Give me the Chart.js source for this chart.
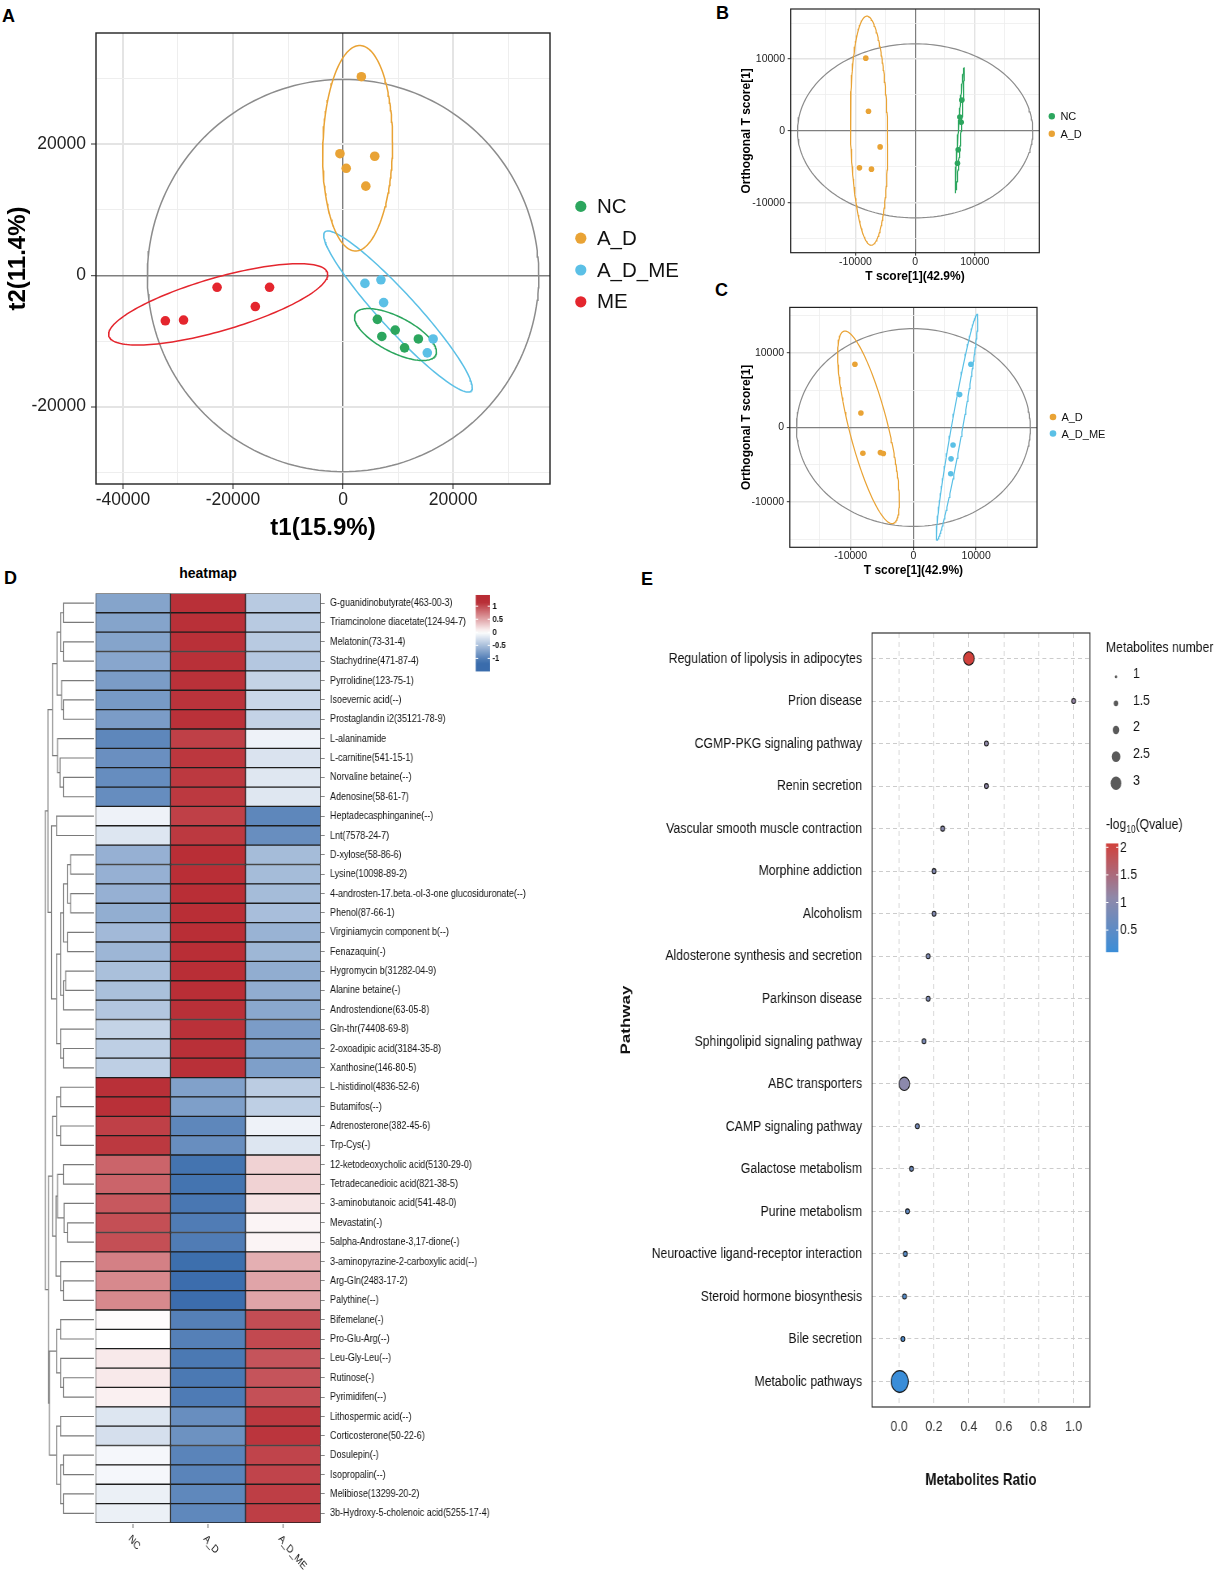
<!DOCTYPE html>
<html>
<head>
<meta charset="utf-8">
<script src="https://cdn.jsdelivr.net/npm/chart.js@4.4.1/dist/chart.umd.min.js"></script>
<style>
  body { margin: 0; background: #fff; width: 1214px; height: 1572px; position: relative; overflow: hidden; }
  .pane { position: absolute; }
  .squeeze { transform-origin: 0 0; }
  .tag { position: absolute; font: bold 18px 'Liberation Sans', Arial, sans-serif; line-height: 18px; color: #000; }
  .htitle { position: absolute; font: bold 14px 'Liberation Sans', Arial, sans-serif; line-height: 14px; width: 100px; text-align: center; }
</style>
</head>
<body>
<div class="tag" style="left:2px;top:7px">A</div>
<div class="tag" style="left:716px;top:4px">B</div>
<div class="tag" style="left:715px;top:281px">C</div>
<div class="tag" style="left:4px;top:569px">D</div>
<div class="tag" style="left:641px;top:570px">E</div>
<div class="htitle" style="left:158px;top:566px">heatmap</div>

<canvas class="pane" id="pcaChart" width="700" height="560" style="left:0;top:0"></canvas>
<canvas class="pane" id="oplsB" width="514" height="290" style="left:700px;top:0"></canvas>
<canvas class="pane" id="oplsC" width="514" height="300" style="left:700px;top:280px"></canvas>
<canvas class="pane squeeze" id="heatChart" style="left:0;top:580px"></canvas>
<canvas class="pane squeeze" id="pathChart" style="left:600px;top:590px"></canvas>

<script>
const SANS = "'Liberation Sans', Arial, sans-serif";

// ---- A: PCA scores ----
const pcaT1NC = [6230, 9470, 7040, 13680, 11170];
const pcaT2NC = [-6680, -8320, -9290, -9670, -11030];
const pcaT1AD = [3320, -570, 5750, 570, 4130];
const pcaT2AD = [30330, 18590, 18200, 16360, 13640];
const pcaT1ADME = [3970, 6880, 7370, 16360, 15300];
const pcaT2ADME = [-1200, -650, -4130, -9670, -11790];
const pcaT1ME = [-32300, -28990, -22900, -15950, -13360];
const pcaT2ME = [-6900, -6790, -1790, -4730, -1790];

// ---- B: OPLS-DA NC vs A_D ----
const bTNC = [7820, 7490, 7710, 7210, 7090];
const bONC = [4280, 1910, 1180, -2640, -4510];
const bTAD = [-8270, -7820, -5870, -9330, -7320];
const bOAD = [10110, 2730, -2230, -5150, -5330];

// ---- C: OPLS-DA A_D vs A_D_ME ----
const cTAD = [-9320, -8370, -8050, -5260, -4790];
const cOAD = [8510, 1950, -3460, -3370, -3500];
const cTADME = [9160, 7370, 6320, 6000, 5950];
const cOADME = [8510, 4430, -2350, -4210, -6210];

// ---- D: heatmap (row z-scores) ----
const heatColumns = ['NC', 'A_D', 'A_D_ME'];
const heatRows = [
  'G-guanidinobutyrate(463-00-3)', 'Triamcinolone diacetate(124-94-7)', 'Melatonin(73-31-4)',
  'Stachydrine(471-87-4)', 'Pyrrolidine(123-75-1)', 'Isoevernic acid(--)', 'Prostaglandin i2(35121-78-9)',
  'L-alaninamide', 'L-carnitine(541-15-1)', 'Norvaline betaine(--)', 'Adenosine(58-61-7)',
  'Heptadecasphinganine(--)', 'Lnt(7578-24-7)', 'D-xylose(58-86-6)', 'Lysine(10098-89-2)',
  '4-androsten-17.beta.-ol-3-one glucosiduronate(--)', 'Phenol(87-66-1)', 'Virginiamycin component b(--)',
  'Fenazaquin(-)', 'Hygromycin b(31282-04-9)', 'Alanine betaine(-)', 'Androstendione(63-05-8)',
  'Gln-thr(74408-69-8)', '2-oxoadipic acid(3184-35-8)', 'Xanthosine(146-80-5)', 'L-histidinol(4836-52-6)',
  'Butamifos(--)', 'Adrenosterone(382-45-6)', 'Trp-Cys(-)', '12-ketodeoxycholic acid(5130-29-0)',
  'Tetradecanedioic acid(821-38-5)', '3-aminobutanoic acid(541-48-0)', 'Mevastatin(-)',
  '5alpha-Androstane-3,17-dione(-)', '3-aminopyrazine-2-carboxylic acid(--)', 'Arg-Gln(2483-17-2)',
  'Palythine(--)', 'Bifemelane(-)', 'Pro-Glu-Arg(--)', 'Leu-Gly-Leu(--)', 'Rutinose(-)', 'Pyrimidifen(--)',
  'Lithospermic acid(--)', 'Corticosterone(50-22-6)', 'Dosulepin(-)', 'Isopropalin(--)',
  'Melibiose(13299-20-2)', '3b-Hydroxy-5-cholenoic acid(5255-17-4)'
];
const zNC = [-0.72, -0.72, -0.72, -0.70, -0.78, -0.80, -0.78, -0.95, -0.88, -0.90, -0.90, -0.10, -0.20,
  -0.62, -0.62, -0.62, -0.64, -0.55, -0.58, -0.50, -0.50, -0.45, -0.35, -0.38, -0.38,
  1.14, 1.14, 1.05, 1.09, 0.85, 0.85, 0.92, 0.97, 0.97, 0.70, 0.65, 0.65,
  0.02, 0.00, 0.12, 0.12, 0.08, -0.20, -0.25, -0.06, -0.06, -0.12, -0.12];
const zAD = [1.14, 1.14, 1.14, 1.14, 1.13, 1.12, 1.13, 1.05, 1.10, 1.09, 1.09, 1.05, 1.09,
  1.15, 1.15, 1.15, 1.15, 1.15, 1.15, 1.15, 1.15, 1.14, 1.13, 1.14, 1.14,
  -0.74, -0.76, -0.95, -0.89, -1.10, -1.10, -1.07, -1.03, -1.03, -1.14, -1.15, -1.15,
  -1.00, -1.00, -1.06, -1.06, -1.04, -0.89, -0.86, -0.97, -0.97, -0.94, -0.94];
const zADME = [-0.42, -0.42, -0.42, -0.44, -0.35, -0.32, -0.35, -0.10, -0.22, -0.19, -0.19, -0.95, -0.89,
  -0.53, -0.53, -0.53, -0.51, -0.60, -0.57, -0.65, -0.65, -0.69, -0.78, -0.76, -0.76,
  -0.40, -0.38, -0.10, -0.20, 0.25, 0.25, 0.15, 0.06, 0.06, 0.44, 0.50, 0.50,
  0.98, 1.00, 0.94, 0.94, 0.96, 1.09, 1.11, 1.03, 1.03, 1.06, 1.06];
const heatLegendTicks = [1, 0.5, 0, -0.5, -1];
// row dendrogram, hclust style: negative = row number, positive = earlier merge
const rowMerges = [
  [-1, -2, 3.0], [-3, -4, 3.0], [1, 2, 3.3], [-6, -7, 3.0], [-5, 4, 3.2], [3, 5, 3.65],
  [-10, -11, 3.0], [-9, 7, 3.35], [-8, 8, 3.6], [6, 9, 4.1], [-12, -13, 3.7],
  [-14, -15, 2.3], [-16, -17, 2.3], [12, 13, 2.6], [-18, -19, 2.6], [14, 15, 3.0],
  [-20, -21, 2.8], [17, -22, 3.0], [16, 18, 3.3], [-24, -25, 3.0], [-23, 20, 3.3],
  [19, 21, 3.7], [11, 22, 4.2], [10, 23, 4.55],
  [-26, -27, 3.3], [-28, -29, 3.3], [25, 26, 3.7], [-30, -31, 3.0], [-33, -34, 2.6],
  [-32, 29, 2.95], [28, 30, 3.6], [-36, -37, 3.0], [-35, 32, 3.3], [31, 33, 3.75],
  [27, 34, 4.1], [-38, -39, 3.3], [-41, -42, 3.0], [-40, 37, 3.3], [36, 38, 3.7],
  [-43, -44, 3.3], [-45, -46, 3.0], [-47, -48, 3.0], [41, 42, 3.3], [40, 43, 3.7],
  [39, 44, 4.4], [35, 45, 4.5], [24, 46, 4.8]
];

// ---- E: KEGG enrichment ----
const pathways = [
  'Regulation of lipolysis in adipocytes', 'Prion disease', 'CGMP-PKG signaling pathway', 'Renin secretion',
  'Vascular smooth muscle contraction', 'Morphine addiction', 'Alcoholism', 'Aldosterone synthesis and secretion',
  'Parkinson disease', 'Sphingolipid signaling pathway', 'ABC transporters', 'CAMP signaling pathway',
  'Galactose metabolism', 'Purine metabolism', 'Neuroactive ligand-receptor interaction',
  'Steroid hormone biosynthesis', 'Bile secretion', 'Metabolic pathways'
];
const pathRatio = [0.40, 1.0, 0.50, 0.50, 0.25, 0.20, 0.20, 0.167, 0.167, 0.143, 0.03, 0.105, 0.071, 0.048, 0.036, 0.031, 0.022, 0.004];
const pathCount = [2, 1, 1, 1, 1, 1, 1, 1, 1, 1, 2, 1, 1, 1, 1, 1, 1, 3];
const pathQ = [2.07, 1.15, 1.1, 1.1, 1.0, 0.95, 0.95, 0.9, 0.9, 0.85, 1.05, 0.8, 0.7, 0.55, 0.45, 0.4, 0.35, 0.1];
const ratioTicks = [0, 0.2, 0.4, 0.6, 0.8, 1.0];
const sizeBreaks = [1, 1.5, 2, 2.5, 3];
const qBreaks = [2, 1.5, 1, 0.5];

const groupColor = { NC: '#2CA65E', A_D: '#E9A335', A_D_ME: '#5BC0E6', ME: '#E4262E' };

// panels D and E were squeezed sideways in the source figure
const HS = 0.81, ES = 0.79;

// ---------- helpers ----------
const mean = a => a.reduce((s, v) => s + v, 0) / a.length;
const CHI95 = Math.sqrt(5.991); // 95% chi-square, 2 df

// 95% normal confidence ellipse of a group
function ellipse(xs, ys, n = 160) {
  const k = xs.length, mx = mean(xs), my = mean(ys);
  let sxx = 0, syy = 0, sxy = 0;
  for (let i = 0; i < k; i++) {
    const dx = xs[i] - mx, dy = ys[i] - my;
    sxx += dx * dx; syy += dy * dy; sxy += dx * dy;
  }
  sxx /= k - 1; syy /= k - 1; sxy /= k - 1;
  const a = Math.sqrt(sxx), b = sxy / a, c = Math.sqrt(Math.max(syy - b * b, 0));
  const pts = [];
  for (let i = 0; i <= n; i++) {
    const t = 2 * Math.PI * i / n;
    pts.push({ x: mx + CHI95 * a * Math.cos(t), y: my + CHI95 * (b * Math.cos(t) + c * Math.sin(t)) });
  }
  return pts;
}

// Hotelling-type ellipse around the origin for all samples
function originEllipse(xs, ys, n = 200) {
  const k = xs.length;
  const sx = Math.sqrt(xs.reduce((s, v) => s + v * v, 0) / (k - 1));
  const sy = Math.sqrt(ys.reduce((s, v) => s + v * v, 0) / (k - 1));
  const pts = [];
  for (let i = 0; i <= n; i++) {
    const t = 2 * Math.PI * i / n;
    pts.push({ x: CHI95 * sx * Math.cos(t), y: CHI95 * sy * Math.sin(t) });
  }
  return pts;
}

function mix(c1, c2, f) {
  return c1.map((v, i) => Math.round(v + (c2[i] - v) * f));
}
const rgb = c => `rgb(${c[0]},${c[1]},${c[2]})`;

function heatColor(z) {
  const t = Math.max(-1, Math.min(1, z / 1.16));
  const end = t < 0 ? [58, 108, 172] : [184, 44, 52];
  return rgb(mix([255, 255, 255], end, Math.abs(t)));
}

const qMin = Math.min(...pathQ), qMax = Math.max(...pathQ);
function qColor(v) {
  const t = (v - qMin) / (qMax - qMin);
  const lo = [58, 141, 216], mid = [143, 137, 170], hi = [209, 65, 60];
  return rgb(t < 0.5 ? mix(lo, mid, t / 0.5) : mix(mid, hi, (t - 0.5) / 0.5));
}
const dotRadius = n => 2.5 + (n - 1) * 4.2;

// ---------- plugins ----------
const framePlugin = {
  id: 'frame',
  defaults: { color: null, width: 1 },
  afterDatasetsDraw(chart, args, o) {
    if (!o.color) return;
    const { ctx, chartArea: a } = chart;
    ctx.save();
    ctx.strokeStyle = o.color;
    ctx.lineWidth = o.width;
    ctx.strokeRect(a.left, a.top, a.right - a.left, a.bottom - a.top);
    ctx.restore();
  }
};

const dotLegend = {
  id: 'dotLegend',
  defaults: {},
  afterDraw(chart, args, o) {
    if (o.x === undefined) return;
    const { ctx } = chart;
    ctx.save();
    ctx.font = o.font;
    ctx.textBaseline = 'middle';
    ctx.textAlign = 'left';
    chart.data.datasets.filter(d => d.inLegend).forEach((d, i) => {
      const y = o.y + i * o.gap;
      ctx.fillStyle = d.backgroundColor;
      ctx.beginPath();
      ctx.arc(o.x, y, o.r, 0, 2 * Math.PI);
      ctx.fill();
      ctx.fillStyle = '#111';
      ctx.fillText(d.label, o.textX, y + 1);
    });
    ctx.restore();
  }
};

// ---------- score plots (A, B, C) ----------
function scoreChart(id, o) {
  const points = o.groups.map(g => ({
    label: g.name, inLegend: true,
    data: g.xs.map((x, i) => ({ x, y: g.ys[i] })),
    backgroundColor: groupColor[g.name], borderColor: groupColor[g.name],
    pointRadius: o.pointR, pointBorderWidth: 0
  }));
  const rings = o.groups.map(g => ({
    label: g.name + ' ellipse', data: ellipse(g.xs, g.ys), showLine: true, pointRadius: 0,
    borderColor: groupColor[g.name], borderWidth: o.ringW, fill: false, tension: 0
  }));
  const allX = o.groups.flatMap(g => g.xs), allY = o.groups.flatMap(g => g.ys);
  rings.push({
    label: 'T2', data: originEllipse(allX, allY), showLine: true, pointRadius: 0,
    borderColor: '#8c8c8c', borderWidth: o.ringW, fill: false, tension: 0
  });

  const isMajor = v => Math.abs(v % o.labelStep) < 1e-6;
  const isZero = c => c.tick && c.tick.value === 0;
  const grid = {
    color: c => isZero(c) ? '#7f7f7f' : (c.tick && isMajor(c.tick.value) ? '#e4e4e4' : '#eeeeee'),
    lineWidth: c => isZero(c) ? o.zeroW : (c.tick && isMajor(c.tick.value) ? o.majorW : o.minorW),
    tickColor: c => (c.tick && isMajor(c.tick.value)) ? '#333' : 'rgba(0,0,0,0)',
    tickLength: o.tickLen, tickWidth: 1
  };
  const axis = (lim, span, title, pad, tpad, fit) => ({
    type: 'linear', min: lim[0], max: lim[1], afterFit: fit,
    afterBuildTicks: s => {
      const t = [];
      for (let v = Math.ceil(span[0] / o.step) * o.step; v <= span[1]; v += o.step) t.push({ value: v });
      s.ticks = t;
    },
    ticks: {
      autoSkip: false, maxRotation: 0, padding: pad,
      font: { family: SANS, size: o.tickSize }, color: '#222',
      callback: v => (isMajor(v) ? String(v) : '')
    },
    grid: grid,
    border: { display: false },
    title: { display: true, text: title, color: '#000', padding: tpad,
      font: { family: SANS, size: o.titleSize, weight: 'bold' } }
  });

  return new Chart(document.getElementById(id), {
    type: 'scatter',
    data: { datasets: points.concat(rings) },
    options: {
      responsive: false, animation: false,
      layout: { padding: { left: 0, top: o.area.t, right: o.w - o.area.r, bottom: 0 } },
      scales: {
        x: axis(o.xLim, o.xSpan || o.xLim, o.xTitle, o.xPad, { top: 0, bottom: o.xTitlePad }, s => { s.height = o.h - o.area.b; }),
        y: axis(o.yLim, o.ySpan || o.yLim, o.yTitle, o.yPad, { top: o.yTitlePad, bottom: 0 }, s => { s.width = o.area.l; })
      },
      plugins: {
        legend: { display: false }, tooltip: { enabled: false },
        frame: { color: '#222', width: o.frameW },
        dotLegend: o.legend
      }
    },
    plugins: [framePlugin, dotLegend]
  });
}

scoreChart('pcaChart', {
  groups: [
    { name: 'NC', xs: pcaT1NC, ys: pcaT2NC }, { name: 'A_D', xs: pcaT1AD, ys: pcaT2AD },
    { name: 'A_D_ME', xs: pcaT1ADME, ys: pcaT2ADME }, { name: 'ME', xs: pcaT1ME, ys: pcaT2ME }
  ],
  w: 700, h: 560, area: { l: 96, t: 33, r: 550, b: 484 },
  xLim: [-44900, 37600], yLim: [-31800, 37000], step: 10000, labelStep: 20000,
  tickSize: 17.5, tickLen: 5, xPad: 1, yPad: 5, titleSize: 24, xTitlePad: 17, yTitlePad: 3.5,
  xTitle: 't1(15.9%)', yTitle: 't2(11.4%)',
  pointR: 4.8, ringW: 1.5, zeroW: 1.4, majorW: 2, minorW: 1, frameW: 1.4,
  legend: { x: 580.8, y: 206.4, gap: 31.8, r: 5.6, textX: 596.9, font: `20.5px ${SANS}` }
});

scoreChart('oplsB', {
  groups: [{ name: 'NC', xs: bTNC, ys: bONC }, { name: 'A_D', xs: bTAD, ys: bOAD }],
  w: 514, h: 290, area: { l: 90.7, t: 4.7, r: 339.3, b: 252.7 },
  xLim: [-20850, 20800], yLim: [-16950, 16950], xSpan: [-15000, 15000], ySpan: [-15000, 15000],
  step: 5000, labelStep: 10000,
  tickSize: 10.5, tickLen: 3, xPad: 0, yPad: 2.7, titleSize: 12, xTitlePad: 6, yTitlePad: 39,
  xTitle: 'T score[1](42.9%)', yTitle: 'Orthogonal T score[1]',
  pointR: 2.8, ringW: 1.2, zeroW: 1.2, majorW: 1.4, minorW: 0.8, frameW: 1.2,
  legend: { x: 351.8, y: 116.2, gap: 17.5, r: 3.2, textX: 360.4, font: `11px ${SANS}` }
});

scoreChart('oplsC', {
  groups: [{ name: 'A_D', xs: cTAD, ys: cOAD }, { name: 'A_D_ME', xs: cTADME, ys: cOADME }],
  w: 514, h: 300, area: { l: 89.8, t: 27.4, r: 337, b: 267.3 },
  xLim: [-19700, 19700], yLim: [-16100, 16150], xSpan: [-15000, 15000], ySpan: [-15000, 15000],
  step: 5000, labelStep: 10000,
  tickSize: 10.5, tickLen: 3, xPad: 0, yPad: 2.7, titleSize: 12, xTitlePad: 2.4, yTitlePad: 39,
  xTitle: 'T score[1](42.9%)', yTitle: 'Orthogonal T score[1]',
  pointR: 2.8, ringW: 1.2, zeroW: 1.2, majorW: 1.4, minorW: 0.8, frameW: 1.2,
  legend: { x: 353, y: 137, gap: 16.5, r: 3.3, textX: 361.4, font: `11px ${SANS}` }
});

// ---------- D: heatmap (drawn wide, squeezed by CSS) ----------
const heatCanvas = document.getElementById('heatChart');
heatCanvas.width = Math.round(600 / HS);
heatCanvas.height = 992;
heatCanvas.style.transform = `scaleX(${HS})`;

const heatExtras = {
  id: 'heatExtras',
  afterDraw(chart) {
    const { ctx, chartArea: a, scales } = chart;
    ctx.save();
    // dendrogram
    const leafX = a.left - 1.5 / HS, rootX = a.left - 50 / HS;
    const maxH = Math.max(...rowMerges.map(m => m[2]));
    const xOf = h => leafX - (leafX - rootX) * h / maxH;
    const pos = [];
    const node = id => id < 0 ? { x: leafX, y: scales.y.getPixelForValue(-id - 1) } : pos[id - 1];
    ctx.strokeStyle = '#7a7a7a';
    ctx.lineWidth = 1.2;
    ctx.beginPath();
    rowMerges.forEach(([p, q, h], i) => {
      const A = node(p), B = node(q), x = xOf(h);
      ctx.moveTo(A.x, A.y); ctx.lineTo(x, A.y); ctx.lineTo(x, B.y); ctx.lineTo(B.x, B.y);
      pos[i] = { x, y: (A.y + B.y) / 2 };
    });
    ctx.stroke();

    // column ticks and rotated labels
    ctx.font = `11px ${SANS}`;
    ctx.fillStyle = '#111';
    ctx.textAlign = 'left';
    ctx.textBaseline = 'middle';
    heatColumns.forEach((c, j) => {
      const cx = scales.x.getPixelForValue(j + 0.5);
      ctx.beginPath(); ctx.moveTo(cx, a.bottom + 1); ctx.lineTo(cx, a.bottom + 5); ctx.stroke();
      ctx.save();
      ctx.translate(cx - 4, a.bottom + 14);
      ctx.rotate(Math.PI / 4);
      ctx.fillText(c, 0, 0);
      ctx.restore();
    });

    // colour key
    const yOf = v => 52.3 - 26.1 * v;
    const bx = 475.7 / HS, bw = 14.3 / HS, top = yOf(1.43), bot = yOf(-1.5);
    const g = ctx.createLinearGradient(0, top, 0, bot);
    for (let k = 0; k <= 20; k++) {
      const v = 1.43 - (2.93 * k) / 20;
      g.addColorStop(k / 20, heatColor(v));
    }
    ctx.fillStyle = g;
    ctx.fillRect(bx, top, bw, bot - top);
    ctx.strokeStyle = '#fff';
    ctx.lineWidth = 1;
    ctx.font = `bold 9.5px ${SANS}`;
    heatLegendTicks.forEach(v => {
      const y = yOf(v);
      ctx.beginPath();
      ctx.moveTo(bx, y); ctx.lineTo(bx + 3, y);
      ctx.moveTo(bx + bw - 3, y); ctx.lineTo(bx + bw, y);
      ctx.stroke();
      ctx.fillStyle = '#111';
      ctx.fillText(String(v), bx + bw + 3, y);
    });
    ctx.restore();
  }
};

new Chart(heatCanvas, {
  type: 'bar',
  data: {
    labels: heatRows,
    datasets: [zNC, zAD, zADME].map((z, j) => ({
      label: heatColumns[j],
      data: heatRows.map(() => 1),
      backgroundColor: z.map(heatColor),
      borderColor: '#1e1e1e', borderWidth: 1, borderSkipped: false,
      barPercentage: 1, categoryPercentage: 1
    }))
  },
  options: {
    indexAxis: 'y', responsive: false, animation: false,
    layout: { padding: { left: 95.4 / HS, top: 5, right: 0, bottom: 49 } },
    scales: {
      x: { type: 'linear', stacked: true, min: 0, max: 3, display: false },
      y: {
        stacked: true, position: 'right',
        afterFit: s => { s.width = (600 - 320.4) / HS; },
        grid: { drawOnChartArea: false, offset: false, tickLength: 4 / HS, color: '#888' },
        border: { display: false },
        ticks: { autoSkip: false, padding: 5.5 / HS, font: { family: SANS, size: 11 }, color: '#111' }
      }
    },
    plugins: { legend: { display: false }, tooltip: { enabled: false } }
  },
  plugins: [heatExtras]
});

// ---------- E: pathway bubble plot (drawn wide, squeezed by CSS) ----------
const pathCanvas = document.getElementById('pathChart');
pathCanvas.width = Math.round(614 / ES);
pathCanvas.height = 982;
pathCanvas.style.transform = `scaleX(${ES})`;

const pathLegend = {
  id: 'pathLegend',
  afterDraw(chart) {
    const { ctx } = chart;
    ctx.save();
    ctx.textAlign = 'left';
    ctx.textBaseline = 'middle';
    ctx.fillStyle = '#111';
    ctx.font = `15.5px ${SANS}`;
    ctx.fillText('Metabolites number', 505.9 / ES, 57.3);
    sizeBreaks.forEach((n, i) => {
      const y = 86.7 + i * 26.65;
      ctx.fillStyle = '#5a5a5a';
      ctx.beginPath();
      ctx.arc(516 / ES, y, dotRadius(n) * 0.62, 0, 2 * Math.PI);
      ctx.fill();
      ctx.fillStyle = '#111';
      ctx.fillText(String(n), 533 / ES, y - 3);
    });

    // -log10(Qvalue) colour bar
    let x = 505.9 / ES;
    ctx.fillText('-log', x, 235); x += ctx.measureText('-log').width;
    ctx.font = `10.5px ${SANS}`;
    ctx.fillText('10', x, 240); x += ctx.measureText('10').width;
    ctx.font = `15.5px ${SANS}`;
    ctx.fillText('(Qvalue)', x, 235);

    const yOf = v => 257.3 + (2 - v) * 55.2;
    const bx = 506 / ES, bw = 12.4 / ES, top = yOf(qMax), bot = yOf(qMin);
    const g = ctx.createLinearGradient(0, top, 0, bot);
    for (let k = 0; k <= 20; k++) g.addColorStop(k / 20, qColor(qMax - (qMax - qMin) * k / 20));
    ctx.fillStyle = g;
    ctx.fillRect(bx, top, bw, bot - top);
    ctx.strokeStyle = '#fff';
    ctx.lineWidth = 1;
    qBreaks.forEach(v => {
      const y = yOf(v);
      ctx.beginPath();
      ctx.moveTo(bx, y); ctx.lineTo(bx + 3, y);
      ctx.moveTo(bx + bw - 3, y); ctx.lineTo(bx + bw, y);
      ctx.stroke();
      ctx.fillStyle = '#111';
      ctx.fillText(String(v), bx + bw + 2, y);
    });
    ctx.restore();
  }
};

new Chart(pathCanvas, {
  type: 'scatter',
  data: {
    datasets: [{
      label: 'Pathway enrichment',
      data: pathRatio.map((x, i) => ({ x, y: i })),
      pointRadius: c => dotRadius(pathCount[c.dataIndex]),
      pointBackgroundColor: c => qColor(pathQ[c.dataIndex]),
      pointBorderColor: '#1a1a1a', pointBorderWidth: 1.1
    }]
  },
  options: {
    responsive: false, animation: false,
    layout: { padding: { left: 0, top: 43, right: (614 - 490) / ES, bottom: 0 } },
    scales: {
      x: {
        type: 'linear', min: -0.155, max: 1.093,
        afterFit: s => { s.height = 982 - 817; },
        afterBuildTicks: s => { s.ticks = ratioTicks.map(v => ({ value: v })); },
        ticks: { callback: v => v.toFixed(1), padding: 10, autoSkip: false, maxRotation: 0,
          font: { family: SANS, size: 15.5 }, color: '#333' },
        grid: { color: '#cccccc', lineWidth: 1, drawTicks: false },
        border: { display: false, dash: [5, 4] },
        title: { display: true, text: 'Metabolites Ratio', color: '#111', padding: { top: 0, bottom: 81.8 },
          font: { family: SANS, size: 17, weight: 'bold' } }
      },
      y: {
        type: 'linear', reverse: true, min: -0.6, max: pathways.length - 0.4,
        afterFit: s => { s.width = 272 / ES; },
        afterBuildTicks: s => { s.ticks = pathways.map((p, i) => ({ value: i })); },
        ticks: { callback: v => pathways[v], padding: 10 / ES, autoSkip: false,
          font: { family: SANS, size: 15.5 }, color: '#111' },
        grid: { color: '#cccccc', lineWidth: 1, drawTicks: false },
        border: { display: false, dash: [5, 4] },
        title: { display: true, text: 'Pathway', color: '#111', padding: { top: 22.7, bottom: 0 },
          font: { family: SANS, size: 17, weight: 'bold' } }
      }
    },
    plugins: {
      legend: { display: false }, tooltip: { enabled: false },
      frame: { color: '#333', width: 1.2 }
    }
  },
  plugins: [framePlugin, pathLegend]
});
</script>
</body>
</html>
